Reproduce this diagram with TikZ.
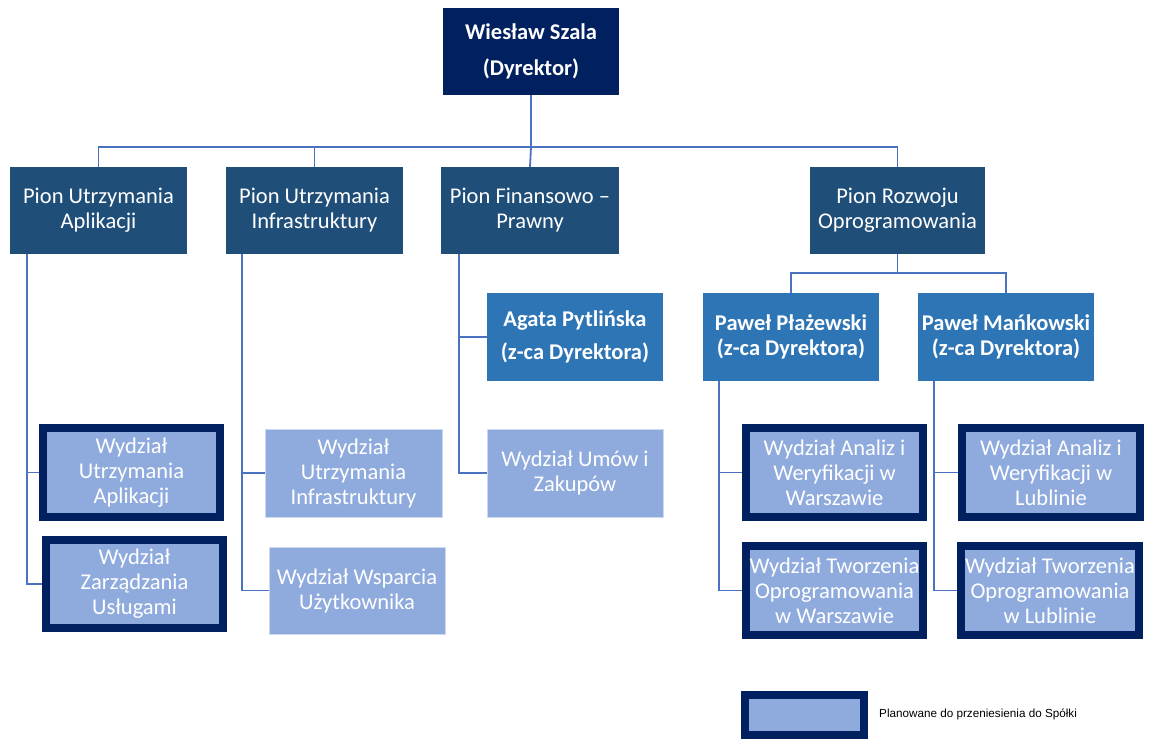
\documentclass[tikz,border=0pt]{standalone}
\usepackage{fontspec}
\setmainfont{Carlito}
\newfontfamily\legendfont{Liberation Sans}
\pgfdeclarelayer{bg}
\pgfsetlayers{bg,main}
\definecolor{navy}{HTML}{002060}
\definecolor{pionblue}{HTML}{1F4E79}
\definecolor{deputyblue}{HTML}{2E75B6}
\definecolor{unitblue}{HTML}{8FAADC}
\definecolor{linkblue}{HTML}{4A72C0}

\tikzset{
  box/.style={rectangle, inner sep=0pt, align=center, text=white,
    font=\fontsize{22.5}{25}\selectfont},
  director/.style={box, fill=navy, minimum width=176pt, minimum height=87pt,
    font=\fontsize{22.5}{25}\selectfont\bfseries},
  pion/.style={box, fill=pionblue, minimum width=177pt, minimum height=87pt},
  deputy/.style={box, fill=deputyblue, minimum width=176pt, minimum height=88pt,
    font=\fontsize{22.5}{25}\selectfont\bfseries},
  unit/.style={box, fill=unitblue, draw=white!55!unitblue, line width=0.8pt,
    minimum width=176pt, minimum height=88pt},
  planned/.style={box, fill=unitblue, draw=navy, line width=8pt,
    minimum width=177pt, minimum height=89pt},
  link/.style={draw=linkblue, line width=1.8pt},
}

\begin{document}
\begin{tikzpicture}[x=1pt, y=-1pt]
\useasboundingbox (0,0) rectangle (1150,740);

% director
\node[director] (dir) at (531,51.5) {Wiesław Szala\\[11pt](Dyrektor)};

% divisions
\node[pion] (p1) at (98.5,210.5) {Pion Utrzymania\\Aplikacji};
\node[pion] (p2) at (314.5,210.5) {Pion Utrzymania\\Infrastruktury};
\node[pion, minimum width=178pt] (p3) at (530,210.5) {Pion Finansowo –\\Prawny};
\node[pion, minimum width=175pt] (p4) at (897.5,210.5) {Pion Rozwoju\\Oprogramowania};

% deputies
\node[deputy] (d1) at (575,337) {Agata Pytlińska\\[8pt](z-ca Dyrektora)};
\node[deputy] (d2) at (791,337) {Paweł Płażewski\\(z-ca Dyrektora)};
\node[deputy] (d3) at (1006,337) {Paweł Mańkowski\\(z-ca Dyrektora)};

% departments
\node[planned] (u1) at (131.5,472.5) {Wydział\\Utrzymania\\Aplikacji};
\node[planned, minimum height=88pt] (u2) at (134.5,584) {Wydział\\Zarządzania\\Usługami};
\node[unit, minimum width=177pt] (u3) at (353.5,473) {Wydział\\Utrzymania\\Infrastruktury};
\node[unit, minimum height=87pt] (u4) at (357,590.5) {Wydział Wsparcia\\Użytkownika};
\node[unit] (u5) at (575,473) {Wydział Umów i\\Zakupów};
\node[planned] (u6) at (834.5,472.5) {Wydział Analiz i\\Weryfikacji w\\Warszawie};
\node[planned] (u7) at (834.5,590.5) {Wydział Tworzenia\\Oprogramowania\\w Warszawie};
\node[planned, minimum width=178pt] (u8) at (1051,472.5) {Wydział Analiz i\\Weryfikacji w\\Lublinie};
\node[planned, minimum width=178pt] (u9) at (1050,590.5) {Wydział Tworzenia\\Oprogramowania\\w Lublinie};

% legend
\node[planned, minimum width=119pt, minimum height=40pt] (key) at (804.5,715) {};
\node[anchor=west, inner sep=0pt, font=\legendfont\fontsize{11.7}{14}\selectfont]
  (keytext) at (879,714) {Planowane do przeniesienia do Spółki};

% connectors
\coordinate (hub) at (531,147);
\coordinate (c1) at ([xshift=17pt]p1.south west);
\coordinate (c2) at ([xshift=16pt]p2.south west);
\coordinate (c3) at ([xshift=18pt]p3.south west);
\coordinate (c4) at ([yshift=-19pt]p4.south);
\coordinate (c5) at ([xshift=16pt]d2.south west);
\coordinate (c6) at ([xshift=16pt]d3.south west);

\begin{pgfonlayer}{bg}
\draw[link] (dir.south) -- (hub);
\draw[link] (hub) -| (p1.north);
\draw[link] (hub) -| (p2.north);
\draw[link] (hub) -- (p3.north);
\draw[link] (hub) -| (p4.north);

\draw[link] (c1) |- (u1.west);
\draw[link] (c1) |- (u2.west);
\draw[link] (c2) |- (u3.west);
\draw[link] (c2) |- (u4.west);
\draw[link] (c3) |- (d1.west);
\draw[link] (c3) |- (u5.west);

\draw[link] (p4.south) -- (c4);
\draw[link] (c4) -| (d2.north);
\draw[link] (c4) -| (d3.north);

\draw[link] (c5) |- (u6.west);
\draw[link] (c5) |- (u7.west);
\draw[link] (c6) |- (u8.west);
\draw[link] (c6) |- (u9.west);
\end{pgfonlayer}
\end{tikzpicture}
\end{document}
